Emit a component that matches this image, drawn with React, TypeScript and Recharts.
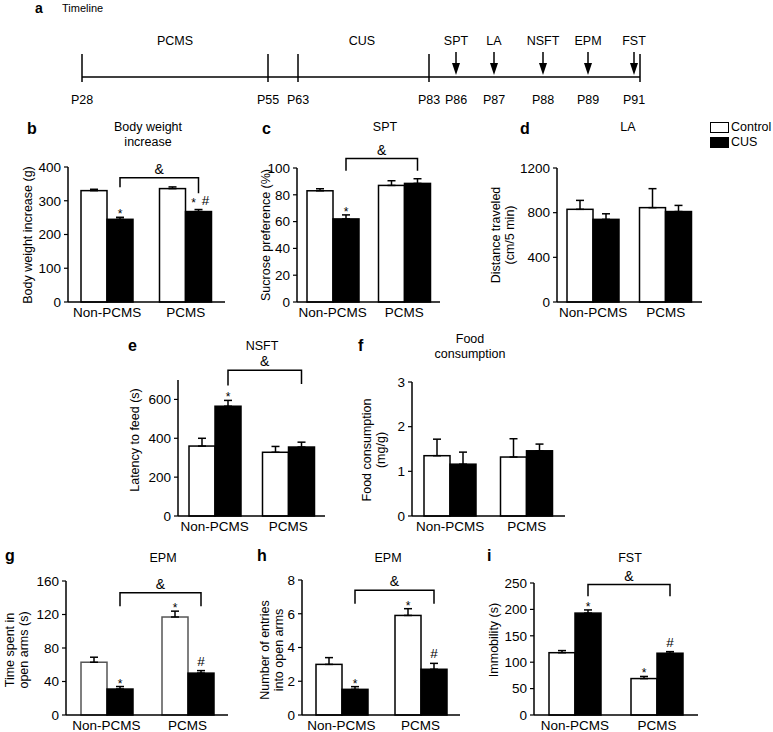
import React from "react";
import { BarChart, Bar, XAxis, YAxis, ErrorBar } from "recharts";

const FONT = '"Liberation Sans", Arial, Helvetica, sans-serif';

const groups = ["Non-PCMS", "PCMS"];

// timeline
const phaseLabels = ["PCMS", "CUS"];
const phaseX = [175, 362];
const dayTicks = ["P28", "P55", "P63", "P83"];
const dayTickX = [82, 268, 298, 429];
const timelineEndX = 640;
const testNames = ["SPT", "LA", "NSFT", "EPM", "FST"];
const testDays = ["P86", "P87", "P88", "P89", "P91"];
const testX = [456, 494, 543, 588, 634];

// b body weight increase (g)
const weightControl = [330, 336];
const weightControlErr = [4, 5];
const weightCus = [245, 268];
const weightCusErr = [6, 6];
const weightTicks = [0, 100, 200, 300, 400];

// c sucrose preference (%)
const sptControl = [83, 87];
const sptControlErr = [1.5, 3.5];
const sptCus = [62, 88.5];
const sptCusErr = [3, 3.5];
const sptTicks = [0, 20, 40, 60, 80, 100];

// d distance traveled (cm/5 min)
const laControl = [830, 845];
const laControlErr = [80, 170];
const laCus = [740, 810];
const laCusErr = [50, 55];
const laTicks = [0, 400, 800, 1200];

// e latency to feed (s)
const nsftControl = [360, 328];
const nsftControlErr = [40, 30];
const nsftCus = [565, 355];
const nsftCusErr = [30, 25];
const nsftTicks = [0, 200, 400, 600];

// f food consumption (mg/g)
const foodControl = [1.35, 1.32];
const foodControlErr = [0.37, 0.41];
const foodCus = [1.16, 1.46];
const foodCusErr = [0.27, 0.15];
const foodTicks = [0, 1, 2, 3];

// g time in open arms (s)
const epmTimeControl = [63, 117];
const epmTimeControlErr = [6, 7];
const epmTimeCus = [31, 50];
const epmTimeCusErr = [3, 3];
const epmTimeTicks = [0, 40, 80, 120, 160];

// h entries into open arms
const epmEntryControl = [3.0, 5.9];
const epmEntryControlErr = [0.4, 0.4];
const epmEntryCus = [1.52, 2.71];
const epmEntryCusErr = [0.16, 0.35];
const epmEntryTicks = [0, 2, 4, 6, 8];

// i immobility (s)
const fstControl = [118, 69];
const fstControlErr = [4, 4];
const fstCus = [193, 117];
const fstCusErr = [6, 3];
const fstTicks = [0, 50, 100, 150, 200, 250];

type PanelDef = {
  letter: string;
  letterX: number;
  letterY: number;
  title: string[];
  titleX: number;
  titleY: number;
  ylabel: string[];
  ylabelX: number;
  ylabelY: number;
  left: number;
  right: number;
  top: number;
  bottom: number;
  domain: [number, number];
  ticks: number[];
  control: number[];
  controlErr: number[];
  cus: number[];
  cusErr: number[];
  controlMarks: string[];
  cusMarks: string[];
  bracket: number[] | null; // top, left leg bottom, right leg bottom
  outline?: string;
};

const panels: PanelDef[] = [
  {
    letter: "b", letterX: 27, letterY: 130,
    title: ["Body weight", "increase"], titleX: 148, titleY: 135,
    ylabel: ["Body weight increase (g)"], ylabelX: 28, ylabelY: 235,
    left: 68, right: 225, top: 167, bottom: 302,
    domain: [0, 400], ticks: weightTicks,
    control: weightControl, controlErr: weightControlErr, cus: weightCus, cusErr: weightCusErr,
    controlMarks: ["", ""], cusMarks: ["*", "* #"],
    bracket: [368, 340, 322],
  },
  {
    letter: "c", letterX: 262, letterY: 130,
    title: ["SPT"], titleX: 385, titleY: 127,
    ylabel: ["Sucrose preference (%)"], ylabelX: 266, ylabelY: 235,
    left: 297, right: 440, top: 168, bottom: 302,
    domain: [0, 100], ticks: sptTicks,
    control: sptControl, controlErr: sptControlErr, cus: sptCus, cusErr: sptCusErr,
    controlMarks: ["", ""], cusMarks: ["*", ""],
    bracket: [107, 98, 98],
  },
  {
    letter: "d", letterX: 520, letterY: 130,
    title: ["LA"], titleX: 628, titleY: 127,
    ylabel: ["Distance traveled", "(cm/5 min)"], ylabelX: 503, ylabelY: 235,
    left: 557, right: 702, top: 168, bottom: 302,
    domain: [0, 1200], ticks: laTicks,
    control: laControl, controlErr: laControlErr, cus: laCus, cusErr: laCusErr,
    controlMarks: ["", ""], cusMarks: ["", ""],
    bracket: null,
  },
  {
    letter: "e", letterX: 128, letterY: 347,
    title: ["NSFT"], titleX: 262, titleY: 346,
    ylabel: ["Latency to feed (s)"], ylabelX: 135, ylabelY: 440,
    left: 178, right: 325, top: 380, bottom: 516,
    domain: [0, 700], ticks: nsftTicks,
    control: nsftControl, controlErr: nsftControlErr, cus: nsftCus, cusErr: nsftCusErr,
    controlMarks: ["", ""], cusMarks: ["*", ""],
    bracket: [750, 672, 680],
  },
  {
    letter: "f", letterX: 358, letterY: 347,
    title: ["Food", "consumption"], titleX: 470, titleY: 347,
    ylabel: ["Food consumption", "(mg/g)"], ylabelX: 374, ylabelY: 450,
    left: 412, right: 565, top: 382, bottom: 516,
    domain: [0, 3], ticks: foodTicks,
    control: foodControl, controlErr: foodControlErr, cus: foodCus, cusErr: foodCusErr,
    controlMarks: ["", ""], cusMarks: ["", ""],
    bracket: null,
  },
  {
    letter: "g", letterX: 5, letterY: 557,
    title: ["EPM"], titleX: 163, titleY: 558,
    ylabel: ["Time spent in", "open arms (s)"], ylabelX: 17, ylabelY: 650,
    left: 66, right: 228, top: 581, bottom: 715,
    domain: [0, 160], ticks: epmTimeTicks,
    control: epmTimeControl, controlErr: epmTimeControlErr, cus: epmTimeCus, cusErr: epmTimeCusErr,
    controlMarks: ["", "*"], cusMarks: ["*", "#"],
    bracket: [146, 130, 130],
    outline: "#555",
  },
  {
    letter: "h", letterX: 257, letterY: 557,
    title: ["EPM"], titleX: 388, titleY: 558,
    ylabel: ["Number of entries", "into open arms"], ylabelX: 272, ylabelY: 650,
    left: 302, right: 460, top: 580, bottom: 715,
    domain: [0, 8], ticks: epmEntryTicks,
    control: epmEntryControl, controlErr: epmEntryControlErr, cus: epmEntryCus, cusErr: epmEntryCusErr,
    controlMarks: ["", "*"], cusMarks: ["*", "#"],
    bracket: [7.4, 6.6, 6.6],
  },
  {
    letter: "i", letterX: 487, letterY: 557,
    title: ["FST"], titleX: 630, titleY: 558,
    ylabel: ["Immobility (s)"], ylabelX: 494, ylabelY: 640,
    left: 534, right: 698, top: 583, bottom: 715,
    domain: [0, 250], ticks: fstTicks,
    control: fstControl, controlErr: fstControlErr, cus: fstCus, cusErr: fstCusErr,
    controlMarks: ["", "*"], cusMarks: ["*", "#"],
    bracket: [247, 225, 225],
  },
];

const M_LEFT = 38;
const M_RIGHT = 10;
const M_TOP = 48;
const X_AXIS_H = 26;
const TICK_FONT = 13.5;

function makeShape(key: "control" | "cus", fill: string, stroke: string, p: PanelDef, band: number) {
  return (props: any) => {
    const { x, y, width, height, payload, index } = props;
    const v = payload[key] as number;
    const base = y + height;
    const ppu = v ? height / v : 0;
    const yAt = (val: number) => base - val * ppu;
    const cx = x + width / 2;
    const errTop = yAt(v + payload[key + "E"]);
    const mark: string = payload[key + "Mark"] || "";
    const tokens = mark.split(" ").filter(Boolean);
    const marks = tokens.map((t, i) => {
      const tx = tokens.length > 1 ? cx + (i === 0 ? -5 : 7) : cx;
      let ty = t === "*" ? errTop + 1 : errTop - 5;
      if (tokens.length > 1) ty = t === "*" ? errTop - 3 : errTop - 5;
      return (
        <text key={i} x={tx} y={ty} textAnchor="middle" fontSize={t === "*" ? 12 : 13.5} fontFamily={FONT} fill="#000">
          {t}
        </text>
      );
    });
    let bracket = null;
    if (key === "cus" && index === 0 && p.bracket) {
      const [top, lb, rb] = p.bracket;
      const xl = cx;
      const xr = cx + band;
      bracket = (
        <g>
          <path
            d={`M${xl},${yAt(lb)} V${yAt(top)} H${xr} V${yAt(rb)}`}
            fill="none"
            stroke="#000"
            strokeWidth={1.5}
          />
          <text x={(xl + xr) / 2} y={yAt(top) - 4} textAnchor="middle" fontSize={14} fontFamily={FONT} fill="#000">
            &amp;
          </text>
        </g>
      );
    }
    return (
      <g>
        <rect x={x} y={y} width={width} height={height} fill={fill} stroke={stroke} strokeWidth={1.5} />
        {marks}
        {bracket}
      </g>
    );
  };
}

function PanelChart({ p }: { p: PanelDef }) {
  const plotW = p.right - p.left;
  const plotH = p.bottom - p.top;
  const width = plotW + M_LEFT + M_RIGHT;
  const height = plotH + M_TOP + X_AXIS_H;
  const band = plotW / 2;
  const data = groups.map((g, i) => ({
    name: g,
    control: p.control[i],
    controlE: p.controlErr[i],
    controlErr: [0, p.controlErr[i]],
    controlMark: p.controlMarks[i],
    cus: p.cus[i],
    cusE: p.cusErr[i],
    cusErr: [0, p.cusErr[i]],
    cusMark: p.cusMarks[i],
  }));
  const tickStyle = { fill: "#000", fontSize: TICK_FONT, fontFamily: FONT };
  const axisLine = { stroke: "#000", strokeWidth: 1.5 };
  return (
    <div style={{ position: "absolute", left: p.left - M_LEFT, top: p.top - M_TOP }}>
      <BarChart
        width={width}
        height={height}
        data={data}
        margin={{ top: M_TOP, right: M_RIGHT, bottom: 0, left: 0 }}
        barGap={0}
        barSize={26}
        style={{ overflow: "visible" }}
      >
        <XAxis
          dataKey="name"
          axisLine={axisLine}
          tickLine={false}
          tickSize={3}
          tickMargin={2}
          tick={tickStyle}
          height={X_AXIS_H}
          interval={0}
        />
        <YAxis
          width={M_LEFT}
          domain={p.domain}
          ticks={p.ticks}
          interval={0}
          axisLine={axisLine}
          tickLine={{ stroke: "#000", strokeWidth: 1.2 }}
          tickSize={4}
          tickMargin={3}
          tick={tickStyle}
        />
        <Bar dataKey="control" isAnimationActive={false} shape={makeShape("control", "#fff", p.outline || "#000", p, band)}>
          <ErrorBar dataKey="controlErr" direction="y" width={4} stroke="#000" strokeWidth={1.5} />
        </Bar>
        <Bar dataKey="cus" isAnimationActive={false} shape={makeShape("cus", "#000", "#000", p, band)}>
          <ErrorBar dataKey="cusErr" direction="y" width={4} stroke="#000" strokeWidth={1.5} />
        </Bar>
      </BarChart>
    </div>
  );
}

function PanelText({ p }: { p: PanelDef }) {
  return (
    <>
      <div style={{ position: "absolute", left: p.letterX, top: p.letterY - 10, fontSize: 16, fontWeight: "bold", lineHeight: "18px" }}>
        {p.letter}
      </div>
      <div
        style={{
          position: "absolute",
          left: p.titleX,
          top: p.titleY,
          transform: "translate(-50%, -50%)",
          fontSize: 12.5,
          lineHeight: "15px",
          textAlign: "center",
          whiteSpace: "nowrap",
        }}
      >
        {p.title.map((t) => (
          <div key={t}>{t}</div>
        ))}
      </div>
      <div
        style={{
          position: "absolute",
          left: p.ylabelX,
          top: p.ylabelY,
          transform: "translate(-50%, -50%) rotate(-90deg)",
          fontSize: 12.5,
          lineHeight: "14px",
          textAlign: "center",
          whiteSpace: "nowrap",
        }}
      >
        {p.ylabel.map((t) => (
          <div key={t}>{t}</div>
        ))}
      </div>
    </>
  );
}

function Timeline() {
  const lineY = 77;
  return (
    <svg width={773} height={112} style={{ position: "absolute", left: 0, top: 0 }}>
      <text x={35} y={13} fontSize={14} fontWeight="bold" fontFamily={FONT}>a</text>
      <text x={62} y={12} fontSize={11} fontFamily={FONT}>Timeline</text>
      <line x1={dayTickX[0]} x2={timelineEndX} y1={lineY} y2={lineY} stroke="#000" strokeWidth={1.5} />
      {dayTickX.concat([timelineEndX]).map((x, i) => (
        <line key={i} x1={x} x2={x} y1={54} y2={82} stroke="#000" strokeWidth={1.5} />
      ))}
      {dayTicks.map((d, i) => (
        <text key={d} x={dayTickX[i]} y={104} textAnchor="middle" fontSize={12.5} fontFamily={FONT}>{d}</text>
      ))}
      {phaseLabels.map((d, i) => (
        <text key={d} x={phaseX[i]} y={45} textAnchor="middle" fontSize={12.5} fontFamily={FONT}>{d}</text>
      ))}
      {testNames.map((t, i) => (
        <g key={t}>
          <text x={testX[i]} y={45} textAnchor="middle" fontSize={12.5} fontFamily={FONT}>{t}</text>
          <line x1={testX[i]} x2={testX[i]} y1={52} y2={65} stroke="#000" strokeWidth={1.5} />
          <polygon points={`${testX[i] - 4},63 ${testX[i] + 4},63 ${testX[i]},75`} fill="#000" />
          <text x={testX[i]} y={104} textAnchor="middle" fontSize={12.5} fontFamily={FONT}>{testDays[i]}</text>
        </g>
      ))}
    </svg>
  );
}

function LegendBox() {
  return (
    <div style={{ position: "absolute", left: 710, top: 120, fontSize: 12.5, lineHeight: "14px" }}>
      <div style={{ display: "flex", alignItems: "center", marginBottom: 1 }}>
        <div style={{ width: 17, height: 9, border: "1px solid #000", background: "#fff", marginRight: 2 }} />
        <span>Control</span>
      </div>
      <div style={{ display: "flex", alignItems: "center" }}>
        <div style={{ width: 17, height: 9, border: "1px solid #000", background: "#000", marginRight: 2 }} />
        <span>CUS</span>
      </div>
    </div>
  );
}

export default function App() {
  return (
    <div
      style={{
        position: "absolute",
        left: 0,
        top: 0,
        width: 773,
        height: 732,
        background: "#fff",
        fontFamily: FONT,
        color: "#000",
        overflow: "hidden",
      }}
    >
      <Timeline />
      {panels.map((p) => (
        <PanelChart key={p.letter} p={p} />
      ))}
      {panels.map((p) => (
        <PanelText key={p.letter + "t"} p={p} />
      ))}
      <LegendBox />
    </div>
  );
}
